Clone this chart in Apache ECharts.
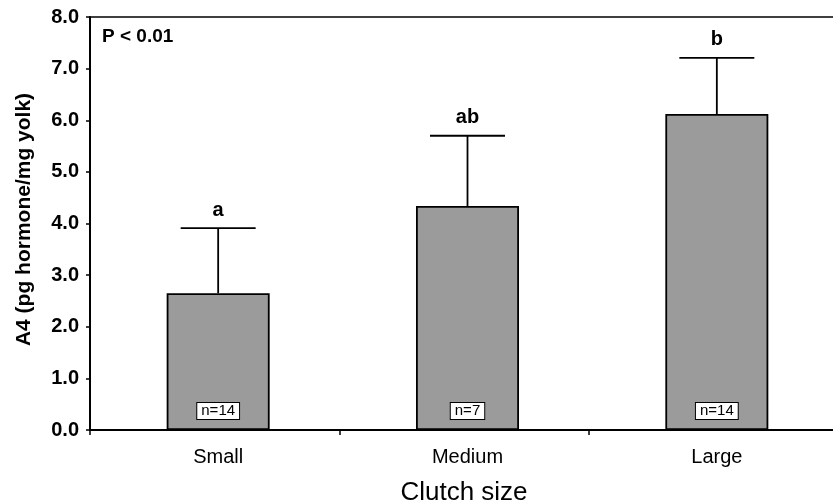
<!DOCTYPE html>
<html>
<head>
<meta charset="utf-8">
<script src="https://cdn.jsdelivr.net/npm/echarts@6/dist/echarts.min.js"></script>
<style>html,body{margin:0;padding:0;background:#fff}#c{width:833px;height:502px}</style>
</head>
<body>
<div id="c"></div>
<script>
const categories = ['Small', 'Medium', 'Large'];
const means = [2.65, 4.34, 6.12];
const upperErr = [3.91, 5.70, 7.21];
const letters = ['a', 'ab', 'b'];
const nLabels = ['n=14', 'n=7', 'n=14'];
const yTicks = [0, 1, 2, 3, 4, 5, 6, 7, 8];

const FONT = '"Liberation Sans", Arial, sans-serif';
const chart = echarts.init(document.getElementById('c'));

const errData = categories.map((c, i) => [i, means[i], upperErr[i]]);

chart.setOption({
  animation: false,
  grid: [
    { left: 90, width: 748, top: 17, bottom: 72, outerBoundsMode: 'none', containLabel: false },
    { left: 93.5, width: 748, top: 17, bottom: 72, outerBoundsMode: 'none', containLabel: false }
  ],
  graphic: [{
    type: 'text', left: 102, top: 27,
    style: { text: 'P < 0.01', font: 'bold 19px ' + FONT, fill: '#000' }
  }],
  xAxis: [{
    gridIndex: 0, type: 'category', data: categories,
    axisLine: { lineStyle: { color: '#000', width: 2 } },
    axisTick: { show: true, length: 5, lineStyle: { color: '#000', width: 1.5 } },
    axisLabel: { show: false },
    name: 'Clutch size', nameLocation: 'middle', nameGap: 50,
    nameTextStyle: { color: '#000', fontSize: 26, fontFamily: FONT }
  }, {
    gridIndex: 0, type: 'category', data: categories, position: 'top',
    axisLine: { lineStyle: { color: '#000', width: 1.5 } },
    axisTick: { show: false }, axisLabel: { show: false }
  }, {
    gridIndex: 1, type: 'category', data: categories,
    axisLine: { show: false }, axisTick: { show: false },
    axisLabel: { color: '#000', fontSize: 20, fontFamily: FONT, margin: 17 }
  }],
  yAxis: [{
    gridIndex: 0, type: 'value', min: 0, max: 8, interval: 1,
    axisLine: { show: true, lineStyle: { color: '#000', width: 2 } },
    axisTick: { show: true, length: 4, lineStyle: { color: '#000', width: 1.5 } },
    splitLine: { show: false },
    axisLabel: {
      color: '#000', fontSize: 20, fontWeight: 'bold', fontFamily: FONT, margin: 11,
      formatter: v => yTicks.includes(v) ? v.toFixed(1) : ''
    },
    name: 'A4 (pg hormone/mg yolk)', nameLocation: 'middle', nameGap: 55, nameRotate: 90,
    nameTextStyle: { color: '#000', fontSize: 21, fontWeight: 'bold', fontFamily: FONT, padding: [0, 0, 0, 8] }
  }, {
    gridIndex: 1, type: 'value', min: 0, max: 8, interval: 1, show: false
  }],
  series: [{
    type: 'bar', data: means, barWidth: 103, xAxisIndex: 2, yAxisIndex: 1,
    itemStyle: { color: '#9b9b9b', borderColor: '#000', borderWidth: 1.8 },
    label: {
      show: true, position: 'insideBottom', distance: 11,
      formatter: p => nLabels[p.dataIndex],
      color: '#000', fontSize: 15, fontFamily: FONT, lineHeight: 14,
      backgroundColor: '#fff', borderColor: '#000', borderWidth: 1, padding: [1, 4, 1, 4]
    },
    z: 2
  }, {
    type: 'custom', data: errData, z: 3, xAxisIndex: 2, yAxisIndex: 1,
    renderItem: (params, api) => {
      const x = api.value(0);
      const p0 = api.coord([x, api.value(1)]);
      const p1 = api.coord([x, api.value(2)]);
      const hw = 37.5;
      return {
        type: 'group',
        children: [
          { type: 'line', shape: { x1: p0[0], y1: p0[1], x2: p1[0], y2: p1[1] }, style: { stroke: '#000', lineWidth: 1.8 } },
          { type: 'line', shape: { x1: p1[0] - hw, y1: p1[1], x2: p1[0] + hw, y2: p1[1] }, style: { stroke: '#000', lineWidth: 1.8 } },
          { type: 'text', x: p1[0], y: p1[1] - 8, style: { text: letters[params.dataIndex], font: 'bold 20px ' + FONT, fill: '#000', align: 'center', verticalAlign: 'bottom' } }
        ]
      };
    }
  }]
});
</script>
</body>
</html>
